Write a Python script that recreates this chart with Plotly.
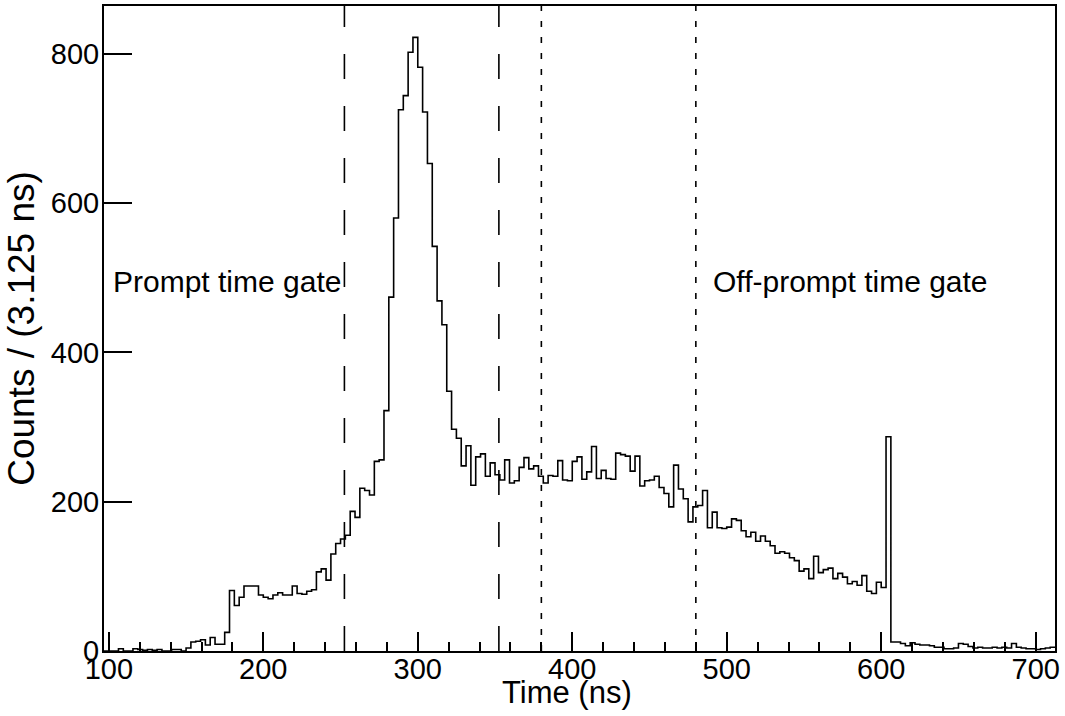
import plotly.graph_objects as go

# ---------------- data ----------------
bin_width = 3.125          # ns
first_edge = 96.875        # ns, lower edge of first bin
counts = [
    0, 0, 0, 3, 0, 0, 3, 2, 1, 2,          # 0-9
    1, 2, 0, 0, 2, 2, 0, 4, 12, 13,        # 10-19
    15, 8, 18, 9, 9, 25, 81, 61, 72, 87,   # 20-29
    87, 87, 75, 72, 70, 75, 78, 75, 75, 87,  # 30-39
    77, 76, 80, 82, 106, 110, 95, 130, 144, 150,  # 40-49
    155, 187, 179, 218, 215, 209, 254, 256, 322, 474,  # 50-59
    580, 725, 744, 802, 822, 782, 722, 653, 542, 469,  # 60-69
    437, 348, 297, 285, 248, 275, 222, 260, 264, 234,  # 70-79
    252, 236, 229, 256, 225, 228, 246, 259, 244, 248,  # 80-89
    234, 225, 235, 234, 255, 229, 228, 254, 260, 230,  # 90-99
    240, 274, 231, 242, 231, 230, 265, 263, 261, 241,  # 100-109
    261, 221, 228, 229, 234, 219, 211, 193, 249, 217,  # 110-119
    204, 173, 193, 195, 215, 165, 186, 165, 164, 166,  # 120-129
    177, 175, 161, 153, 159, 147, 154, 147, 141, 131,  # 130-139
    133, 131, 125, 121, 107, 110, 97, 127, 105, 109,   # 140-149
    111, 97, 104, 99, 90, 93, 88, 101, 80, 77,         # 150-159
    92, 85, 287, 12, 12, 10, 7, 11, 9, 8,              # 160-169
    8, 7, 5, 5, 3, 3, 4, 10, 9, 6,                     # 170-179
    4, 5, 4, 4, 5, 4, 5, 4, 10, 5,                     # 180-189
    4, 3, 3, 2, 3, 4, 5,                               # 190-196
]
prompt_gate = [252.5, 352.5]      # ns, long-dashed lines
off_prompt_gate = [380.0, 480.0]  # ns, short-dashed lines
x_range = [96.875, 712.5]
y_range = [0, 864]
x_title = "Time (ns)"
y_title = "Counts / (3.125 ns)"
gate_labels = ["Prompt time gate", "Off-prompt time gate"]
gate_label_x = [101.5, 489.5]
gate_label_y = 495

# ---------------- figure ----------------
edges = [first_edge + i * bin_width for i in range(len(counts) + 1)]
step_y = counts + [counts[-1]]

FONT = "Liberation Sans, Arial, Helvetica, sans-serif"

fig = go.Figure()
fig.add_trace(go.Scatter(
    x=edges, y=step_y, mode="lines", line_shape="hv",
    line=dict(color="black", width=1.6), hoverinfo="skip", showlegend=False))

for xv in prompt_gate:
    fig.add_shape(type="line", xref="x", yref="paper", x0=xv, x1=xv, y0=0, y1=1,
                  line=dict(color="black", width=1.6, dash="25px,27px"))
for xv in off_prompt_gate:
    fig.add_shape(type="line", xref="x", yref="paper", x0=xv, x1=xv, y0=0, y1=1,
                  line=dict(color="black", width=1.6, dash="6px,10px"))

for txt, xv in zip(gate_labels, gate_label_x):
    fig.add_annotation(x=xv, y=gate_label_y, xref="x", yref="y", text=txt,
                       showarrow=False, xanchor="left", yanchor="middle",
                       font=dict(family=FONT, size=30, color="black"))

# x-axis title as an annotation so it can sit close under the tick labels
fig.add_annotation(x=0.487, y=-0.064, xref="paper", yref="paper", text=x_title,
                   showarrow=False, xanchor="center", yanchor="middle",
                   font=dict(family=FONT, size=31, color="black"))

fig.update_layout(
    width=1065, height=716,
    margin=dict(l=104, r=10, t=6, b=65),
    paper_bgcolor="white", plot_bgcolor="white",
    font=dict(family=FONT, size=29, color="black"),
    showlegend=False,
)
fig.update_xaxes(
    range=x_range, tickmode="linear", tick0=100, dtick=100,
    ticks="inside", ticklen=19, tickwidth=1.6, tickcolor="black",
    minor=dict(ticks="inside", dtick=20, tick0=100, ticklen=9.5, tickwidth=1.6, tickcolor="black"),
    showline=True, linecolor="black", linewidth=2, mirror=True,
    showgrid=False, zeroline=False, automargin=False,
    ticklabelstandoff=-9,
    tickfont=dict(family=FONT, size=29, color="black"),
)
fig.update_yaxes(
    range=y_range, tickmode="linear", tick0=0, dtick=200,
    ticks="inside", ticklen=28, tickwidth=1.6, tickcolor="black",
    showline=True, linecolor="black", linewidth=2, mirror=True,
    showgrid=False, zeroline=False, automargin=False,
    ticklabelstandoff=-3,
    tickfont=dict(family=FONT, size=29, color="black"),
    title=dict(text=y_title, standoff=5, font=dict(family=FONT, size=37, color="black")),
)

fig.write_html("out.html")
